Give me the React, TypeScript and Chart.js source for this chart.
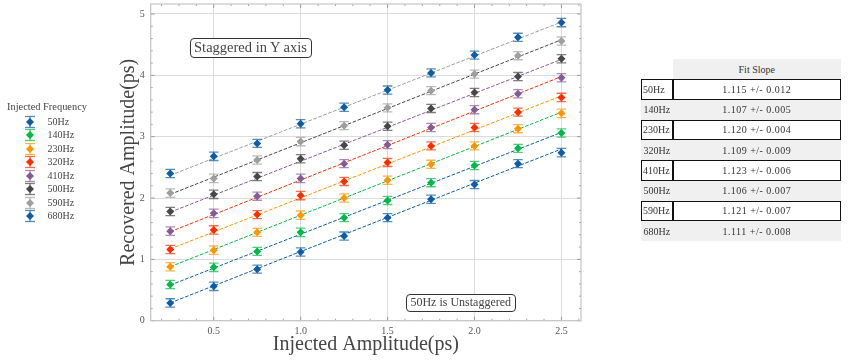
import React, { useEffect, useRef } from "react";
import { Chart, registerables } from "chart.js";

Chart.register(...registerables);

// ---------- data ----------
const injected = [0.25, 0.5, 0.75, 1.0, 1.25, 1.5, 1.75, 2.0, 2.25, 2.5];
const frequencies = ["50Hz", "140Hz", "230Hz", "320Hz", "410Hz", "500Hz", "590Hz", "680Hz"];

const rec50 = [0.29, 0.56, 0.84, 1.12, 1.38, 1.68, 1.98, 2.22, 2.56, 2.74];
const rec140 = [0.59, 0.87, 1.13, 1.44, 1.68, 1.96, 2.25, 2.53, 2.81, 3.06];
const rec230 = [0.88, 1.15, 1.44, 1.72, 2.0, 2.29, 2.55, 2.85, 3.13, 3.38];
const rec320 = [1.16, 1.48, 1.73, 2.04, 2.27, 2.58, 2.85, 3.15, 3.4, 3.64];
const rec410 = [1.46, 1.75, 2.03, 2.32, 2.56, 2.87, 3.15, 3.44, 3.7, 3.96];
const rec500 = [1.78, 2.06, 2.35, 2.64, 2.86, 3.17, 3.46, 3.72, 3.98, 4.27];
const rec590 = [2.08, 2.32, 2.62, 2.92, 3.18, 3.47, 3.75, 4.02, 4.32, 4.56];
const rec680 = [2.4, 2.68, 2.89, 3.21, 3.48, 3.76, 4.04, 4.33, 4.62, 4.86];
const recovered = [rec50, rec140, rec230, rec320, rec410, rec500, rec590, rec680];

const errorSizes = [0.068, 0.068, 0.066, 0.068, 0.066, 0.066, 0.066, 0.066, 0.066, 0.068];

// fitted line values at the first and last injected amplitude
const fitAtStart = [0.29, 0.58, 0.88, 1.17, 1.45, 1.77, 2.06, 2.37];
const fitAtEnd = [2.8, 3.07, 3.4, 3.665, 3.98, 4.26, 4.58, 4.87];

const fitSlopes = [
  "1.115 +/- 0.012",
  "1.107 +/- 0.005",
  "1.120 +/- 0.004",
  "1.109 +/- 0.009",
  "1.123 +/- 0.006",
  "1.106 +/- 0.007",
  "1.121 +/- 0.007",
  "1.111 +/- 0.008",
];

const xTickValues = [0.5, 1.0, 1.5, 2.0, 2.5];
const yTickValues = [0, 1, 2, 3, 4, 5];

// ---------- styles ----------
const markerColors = ["#0C5DA5", "#00B945", "#FF9500", "#FF2C00", "#845B97", "#474747", "#9e9e9e", "#0C5DA5"];
const lineColors = ["#0C5DA5", "#0C5DA5", "#00B945", "#FF9500", "#FF2C00", "#845B97", "#474747", "#9e9e9e"];
const SERIF = "'Liberation Serif', 'Times New Roman', serif";

function withAlpha(hex: string, a: number) {
  const r = parseInt(hex.slice(1, 3), 16);
  const g = parseInt(hex.slice(3, 5), 16);
  const b = parseInt(hex.slice(5, 7), 16);
  return `rgba(${r},${g},${b},${a})`;
}

const errorBarPlugin = {
  id: "errorBars",
  beforeDatasetDraw(chart: any, args: any) {
    const ds = chart.data.datasets[args.index];
    if (!ds.errs) return;
    const ctx = chart.ctx;
    const xs = chart.scales.x;
    const ys = chart.scales.y;
    ctx.save();
    ctx.strokeStyle = withAlpha(ds.baseColor, 0.7);
    ctx.lineWidth = 1.3;
    ds.data.forEach((p: any, i: number) => {
      const px = xs.getPixelForValue(p.x);
      const top = ys.getPixelForValue(p.y + ds.errs[i]);
      const bot = ys.getPixelForValue(p.y - ds.errs[i]);
      ctx.beginPath();
      ctx.moveTo(px, top);
      ctx.lineTo(px, bot);
      ctx.moveTo(px - 4.8, top);
      ctx.lineTo(px + 4.8, top);
      ctx.moveTo(px - 4.8, bot);
      ctx.lineTo(px + 4.8, bot);
      ctx.stroke();
    });
    ctx.restore();
  },
};

const framePlugin = {
  id: "frameTicks",
  afterDatasetsDraw(chart: any) {
    const { ctx, chartArea } = chart;
    const { left, right, top, bottom } = chartArea;
    const xs = chart.scales.x;
    const ys = chart.scales.y;
    ctx.save();
    ctx.strokeStyle = "#8a8a8a";
    ctx.lineWidth = 0.8;
    const drawX = (v: number, len: number) => {
      const p = xs.getPixelForValue(v);
      if (p < left - 0.5 || p > right + 0.5) return;
      ctx.beginPath();
      ctx.moveTo(p, bottom);
      ctx.lineTo(p, bottom - len);
      ctx.moveTo(p, top);
      ctx.lineTo(p, top + len);
      ctx.stroke();
    };
    const drawY = (v: number, len: number) => {
      const p = ys.getPixelForValue(v);
      if (p < top - 0.5 || p > bottom + 0.5) return;
      ctx.beginPath();
      ctx.moveTo(left, p);
      ctx.lineTo(left + len, p);
      ctx.moveTo(right, p);
      ctx.lineTo(right - len, p);
      ctx.stroke();
    };
    for (let k = 1; k <= 26; k++) drawX(k / 10, k % 5 === 0 ? 4 : 2);
    for (let k = 0; k <= 25; k++) drawY(k / 5, k % 5 === 0 ? 4 : 2);
    ctx.strokeStyle = "#c4c4c4";
    ctx.lineWidth = 1.2;
    ctx.strokeRect(left, top, right - left, bottom - top);
    ctx.restore();
  },
};

function ChartCanvas() {
  const ref = useRef<HTMLCanvasElement | null>(null);
  useEffect(() => {
    if (!ref.current) return;
    const datasets: any[] = [];
    recovered.forEach((vals, k) => {
      datasets.push({
        label: frequencies[k],
        data: injected.map((x, i) => ({ x, y: vals[i] })),
        errs: errorSizes,
        baseColor: markerColors[k],
        showLine: false,
        pointStyle: "rectRot",
        pointRadius: 4,
        pointBackgroundColor: markerColors[k],
        pointBorderColor: markerColors[k],
        pointBorderWidth: 0,
        order: 0,
      });
    });
    recovered.forEach((_, k) => {
      datasets.push({
        label: "fit " + frequencies[k],
        data: [
          { x: injected[0], y: fitAtStart[k] },
          { x: injected[injected.length - 1], y: fitAtEnd[k] },
        ],
        showLine: true,
        borderColor: lineColors[k],
        borderWidth: 1,
        borderDash: [3.7, 1.6],
        pointRadius: 0,
        order: 1,
      });
    });

    const chart = new Chart(ref.current, {
      type: "scatter",
      data: { datasets },
      plugins: [errorBarPlugin, framePlugin],
      options: {
        responsive: false,
        animation: false,
        devicePixelRatio: 1,
        layout: { padding: { left: 110, right: 267, top: 4, bottom: 0 } },
        plugins: { legend: { display: false }, tooltip: { enabled: false } },
        scales: {
          x: {
            type: "linear",
            min: 0.1375,
            max: 2.6125,
            afterFit: (s: any) => {
              s.height = 39.3;
              s.paddingLeft = 0;
              s.paddingRight = 0;
            },
            afterBuildTicks: (s: any) => {
              s.ticks = xTickValues.map((v) => ({ value: v }));
            },
            border: { display: false },
            grid: { color: "#dcdcdc", lineWidth: 1, drawTicks: false },
            ticks: {
              padding: 5,
              color: "#555",
              font: { family: SERIF, size: 10 },
              callback: (v: any) => Number(v).toFixed(1),
            },
            title: {
              display: true,
              text: "Injected Amplitude(ps)",
              color: "#444",
              font: { family: SERIF, size: 20 },
              padding: { top: 0, bottom: 3 },
            },
          },
          y: {
            type: "linear",
            min: 0,
            max: 5.163,
            afterFit: (s: any) => {
              s.width = 40.7;
              s.paddingTop = 0;
              s.paddingBottom = 0;
            },
            afterBuildTicks: (s: any) => {
              s.ticks = yTickValues.map((v) => ({ value: v }));
            },
            border: { display: false },
            grid: { color: "#dcdcdc", lineWidth: 1, drawTicks: false },
            ticks: {
              padding: 6,
              color: "#555",
              font: { family: SERIF, size: 10 },
              callback: (v: any) => String(v),
            },
            title: {
              display: true,
              text: "Recovered Amplitude(ps)",
              color: "#444",
              font: { family: SERIF, size: 20 },
              padding: { top: 7, bottom: 0 },
            },
          },
        },
      } as any,
    });
    return () => chart.destroy();
  }, []);
  return (
    <canvas
      ref={ref}
      width={848}
      height={360}
      style={{ position: "absolute", left: 0, top: 0, width: 848, height: 360 }}
    />
  );
}

function LegendGlyph({ color }: { color: string }) {
  const bar = withAlpha(color, 0.7);
  return (
    <svg width={14} height={14} style={{ position: "absolute", left: 23, top: -7 }}>
      <line x1={7} y1={1.5} x2={7} y2={12.5} stroke={bar} strokeWidth={1.3} />
      <line x1={2} y1={1.5} x2={12} y2={1.5} stroke={bar} strokeWidth={1.3} />
      <line x1={2} y1={12.5} x2={12} y2={12.5} stroke={bar} strokeWidth={1.3} />
      <polygon points="7,3 11,7 7,11 3,7" fill={color} />
    </svg>
  );
}

function Legend() {
  return (
    <div style={{ position: "absolute", left: 0, top: 0, fontFamily: SERIF, color: "#444" }}>
      <div
        style={{
          position: "absolute",
          left: 0,
          top: 100,
          width: 94,
          textAlign: "center",
          fontSize: 10.4,
          lineHeight: "14px",
          whiteSpace: "nowrap",
        }}
      >
        Injected Frequency
      </div>
      {frequencies.map((f, i) => (
        <div key={f} style={{ position: "absolute", left: 0, top: 121.7 + i * 13.47, height: 0 }}>
          <LegendGlyph color={markerColors[i]} />
          <div
            style={{
              position: "absolute",
              left: 47.5,
              top: -7,
              fontSize: 10,
              lineHeight: "14px",
              whiteSpace: "nowrap",
            }}
          >
            {f}
          </div>
        </div>
      ))}
    </div>
  );
}

function TextBox({ text, left, top, width, height, size }: any) {
  return (
    <div
      style={{
        position: "absolute",
        left,
        top,
        width,
        height,
        boxSizing: "border-box",
        border: "1.3px solid #333",
        borderRadius: 4,
        background: "#fff",
        display: "flex",
        alignItems: "center",
        justifyContent: "center",
        fontFamily: SERIF,
        fontSize: size,
        color: "#444",
        whiteSpace: "nowrap",
      }}
    >
      {text}
    </div>
  );
}

function SlopeTable() {
  const L = 641;
  const D = 672.5;
  const R = 841;
  const top0 = 59;
  const rowH = 20.25;
  const cells: any[] = [];
  cells.push(
    <div
      key="hdr"
      style={{
        position: "absolute",
        left: D,
        top: top0,
        width: R - D,
        height: rowH,
        background: "#f0f0f0",
        display: "flex",
        alignItems: "center",
        justifyContent: "center",
        fontSize: 10,
      }}
    >
      Fit Slope
    </div>
  );
  frequencies.forEach((f, i) => {
    const y = top0 + rowH * (i + 1);
    const boxed = i % 2 === 0;
    const common: any = {
      position: "absolute",
      top: y,
      height: rowH,
      boxSizing: "border-box",
      display: "flex",
      alignItems: "center",
      background: boxed ? "#ffffff" : "#f0f0f0",
      border: boxed ? "1.5px solid #111" : "none",
      whiteSpace: "nowrap",
    };
    cells.push(
      <div key={"l" + i} style={{ ...common, left: L, width: D - L, paddingLeft: boxed ? 1 : 2.5, fontSize: 10 }}>
        {f}
      </div>
    );
    cells.push(
      <div
        key={"v" + i}
        style={{ ...common, left: D, width: R - D, justifyContent: "center", fontSize: 10, letterSpacing: 0.5 }}
      >
        {fitSlopes[i]}
      </div>
    );
  });
  return <div style={{ position: "absolute", left: 0, top: 0, fontFamily: SERIF, color: "#333" }}>{cells}</div>;
}

export default function App() {
  return (
    <div style={{ position: "absolute", left: 0, top: 0, width: 848, height: 360, background: "#fff", overflow: "hidden" }}>
      <ChartCanvas />
      <Legend />
      <TextBox text="Staggered in Y axis" left={189.5} top={37.5} width={122} height={20.5} size={14.5} />
      <TextBox text="50Hz is Unstaggered" left={406} top={294} width={109.5} height={17.5} size={12} />
      <SlopeTable />
    </div>
  );
}
